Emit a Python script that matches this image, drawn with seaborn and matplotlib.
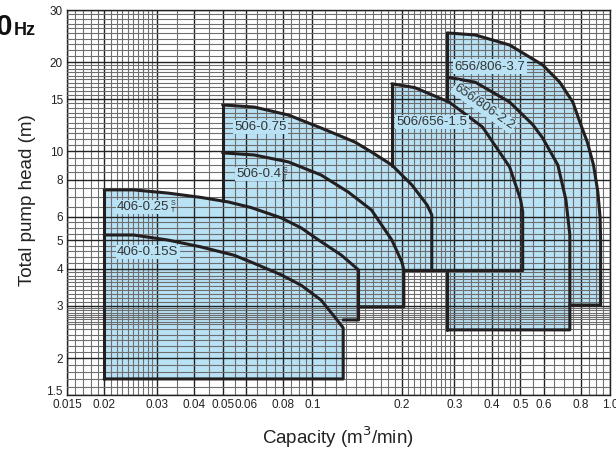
import numpy as np
import matplotlib
matplotlib.use("Agg")
import matplotlib.pyplot as plt
from matplotlib.ticker import NullFormatter, FixedLocator
from matplotlib.transforms import ScaledTranslation
import seaborn as sns

# --- pump curve data (capacity m3/min, head m) ---
c406_015_x = [0.02, 0.0251, 0.0327, 0.0422, 0.0546, 0.0623, 0.0787, 0.0919, 0.107, 0.119, 0.127]
c406_015_y = [5.21, 5.21, 5.01, 4.75, 4.45, 4.22, 3.82, 3.52, 3.14, 2.75, 2.53]
c406_025_x = [0.02, 0.0251, 0.0327, 0.0422, 0.0521, 0.0623, 0.0787, 0.0919, 0.105, 0.125, 0.143]
c406_025_y = [7.40, 7.40, 7.22, 6.98, 6.74, 6.45, 5.95, 5.50, 5.01, 4.46, 3.97]
c506_04_x = [0.05, 0.0638, 0.0831, 0.107, 0.132, 0.158, 0.185, 0.200, 0.203]
c506_04_y = [9.87, 9.71, 9.20, 8.31, 7.28, 6.33, 5.01, 4.22, 3.97]
c506_075_x = [0.05, 0.0638, 0.0831, 0.107, 0.139, 0.158, 0.185, 0.216, 0.243, 0.252]
c506_075_y = [14.33, 14.1, 13.25, 11.98, 10.74, 9.94, 8.98, 7.69, 6.58, 6.09]
c15_x = [0.185, 0.221, 0.288, 0.373, 0.460, 0.501, 0.509]
c15_y = [16.9, 16.4, 14.66, 12.07, 8.85, 6.85, 6.24]
c22_x = [0.284, 0.353, 0.460, 0.550, 0.594, 0.668, 0.711, 0.733]
c22_y = [17.8, 17.1, 14.66, 12.3, 11.08, 8.98, 6.85, 5.21]
c37_x = [0.284, 0.353, 0.460, 0.594, 0.678, 0.750, 0.792, 0.840, 0.880, 0.910, 0.926, 0.93]
c37_y = [25.1, 24.7, 22.85, 19.56, 17.1, 14.66, 12.55, 10.7, 9.0, 7.3, 6.0, 5.01]

# floor head of each range, capacity where its bottom edge stops, lowest filled head
floors = [1.7, 2.69, 2.98, 3.95, 3.95, 2.49, 3.02]
step_x = [0.02, 0.127, 0.144, 0.203, 0.252, 0.284, 0.733]
fill_bottom = [1.7, 1.7, 2.98, 2.98, 3.95, 2.49, 2.49]

curves = [(c406_015_x, c406_015_y), (c406_025_x, c406_025_y),
          (c506_04_x, c506_04_y), (c506_075_x, c506_075_y),
          (c15_x, c15_y), (c22_x, c22_y), (c37_x, c37_y)]

# visible left edges: capacity, low head, high head
edge_x = [0.02, 0.05, 0.185, 0.284, 0.284]
edge_lo = [1.7, 6.78, 8.9, 14.8, 2.49]
edge_hi = [7.40, 14.33, 16.9, 25.1, 3.95]

labels = ["406-0.25", "406-0.15S", "506-0.75", "506-0.4", "506/656-1.5",
          "656/806-3.7", "656/806-2.2"]
label_x = [0.0221, 0.0221, 0.0546, 0.0555, 0.192, 0.301, 0.378]
label_y = [6.48, 4.57, 12.07, 8.37, 12.55, 19.3, 14.1]
label_rot = [0, 0, 0, 0, 0, 0, -35]
st_mark = [True, False, False, True, False, False, False]

x_ticks = [0.015, 0.02, 0.03, 0.04, 0.05, 0.06, 0.08, 0.1, 0.2, 0.3, 0.4, 0.5, 0.6, 0.8, 1.0]
x_ticklabels = ["0.015", "0.02", "0.03", "0.04", "0.05", "0.06", "0.08", "0.1",
                "0.2", "0.3", "0.4", "0.5", "0.6", "0.8", "1.0"]
y_ticks = [1.5, 2, 3, 4, 5, 6, 8, 10, 15, 20, 30]
y_ticklabels = ["1.5", "2", "3", "4", "5", "6", "8", "10", "15", "20", "30"]

BLUE = "#b9e2f5"
INK = "#231f20"

sns.set_theme(style="white")
plt.rcParams['font.family'] = ['Liberation Sans', 'DejaVu Sans']

fig = plt.figure(figsize=(6.16, 4.5), dpi=100)
ax = fig.add_axes([67 / 616, 55 / 450, 543 / 616, 385 / 450])
ax.set_xscale("log")
ax.set_yscale("log")
ax.set_xlim(0.015, 1.0)
ax.set_ylim(1.5, 30)

# log paper style grid
x_minor = np.concatenate([np.arange(0.015, 0.03, 0.001), np.arange(0.03, 0.1, 0.005),
                          np.arange(0.1, 0.3, 0.01), np.arange(0.3, 0.5, 0.02),
                          np.arange(0.5, 1.0001, 0.05)])
y_minor = np.concatenate([np.arange(1.5, 2.6, 0.1), np.arange(2.6, 3.0, 0.05),
                          np.arange(3, 4, 0.1), np.arange(4, 5, 0.2), np.arange(5, 6, 0.25),
                          np.arange(6, 20, 0.5), np.arange(20, 30.01, 1)])
ax.xaxis.set_major_locator(FixedLocator(x_ticks))
ax.yaxis.set_major_locator(FixedLocator(y_ticks))
ax.xaxis.set_minor_locator(FixedLocator(x_minor))
ax.yaxis.set_minor_locator(FixedLocator(y_minor))
ax.xaxis.set_minor_formatter(NullFormatter())
ax.yaxis.set_minor_formatter(NullFormatter())
ax.set_xticklabels(x_ticklabels)
ax.set_yticklabels(y_ticklabels)
ax.set_axisbelow(False)
ax.grid(True, which="minor", color="#6e6e6e", lw=0.8)
ax.grid(True, which="major", color="#222222", lw=1.0)
ax.tick_params(which="both", length=0, labelsize=8.5, colors="#222222", pad=3)
for s in ax.spines.values():
    s.set_color("#222222")
    s.set_linewidth(1.0)

# corner labels nudged apart as on the printed chart
for lab in ax.get_yticklabels():
    if lab.get_text() == "1.5":
        lab.set_transform(lab.get_transform() + ScaledTranslation(0, 3 / 72, fig.dpi_scale_trans))

# filled ranges
for (cx, cy), fl, sx, fb in zip(curves, floors, step_x, fill_bottom):
    px = list(cx) + [cx[-1], sx, sx, cx[0]]
    py = list(cy) + [fl, fl, fb, fb]
    ax.fill(px, py, color=BLUE, lw=0, zorder=1)

# outlines
for (cx, cy), fl, sx in zip(curves, floors, step_x):
    ox = list(cx) + [cx[-1], sx]
    oy = list(cy) + [fl, fl]
    sns.lineplot(x=ox, y=oy, sort=False, estimator=None, color=INK, lw=2.2,
                 ax=ax, zorder=3)
for ex, lo, hi in zip(edge_x, edge_lo, edge_hi):
    sns.lineplot(x=[ex, ex], y=[lo, hi], sort=False, estimator=None, color=INK,
                 lw=2.2, ax=ax, zorder=3)

# range labels
for lab, lx, ly, rot, st in zip(labels, label_x, label_y, label_rot, st_mark):
    box = dict(boxstyle="square,pad=0.1", fc=BLUE, ec="none")
    if rot:
        t = ax.text(lx, ly, lab, rotation=rot, rotation_mode="anchor", ha="center",
                    va="center", fontsize=9.5, color="#333333", zorder=4, bbox=box)
    else:
        t = ax.text(lx, ly, lab, ha="left", va="center", fontsize=9.5,
                    color="#333333", zorder=4, bbox=box)
    if st:
        ax.annotate("S", xy=(1.0, 0.5), xycoords=t, xytext=(1, 0), textcoords="offset points",
                    ha="left", va="bottom", fontsize=5, color="#333333", zorder=4)
        ax.annotate("T", xy=(1.0, 0.5), xycoords=t, xytext=(1, 0), textcoords="offset points",
                    ha="left", va="top", fontsize=5, color="#333333", zorder=4)

ax.set_xlabel("")
ax.set_ylabel("")
fig.text(338 / 616, 1 - 437 / 450, "Capacity (m$^3$/min)", ha="center", va="center",
         fontsize=13.5, color="#222222")
fig.text(28 / 616, 1 - 200 / 450, "Total pump head (m)", rotation=90, ha="center",
         va="center", fontsize=13.5, color="#222222")
fig.text(13 / 616, 1 - 35 / 450, "60", ha="right", va="baseline", fontsize=21,
         weight="bold", color="#111111")
fig.text(14 / 616, 1 - 35 / 450, "Hz", ha="left", va="baseline", fontsize=13,
         weight="bold", color="#111111")

fig.savefig("out.png", dpi=100)
